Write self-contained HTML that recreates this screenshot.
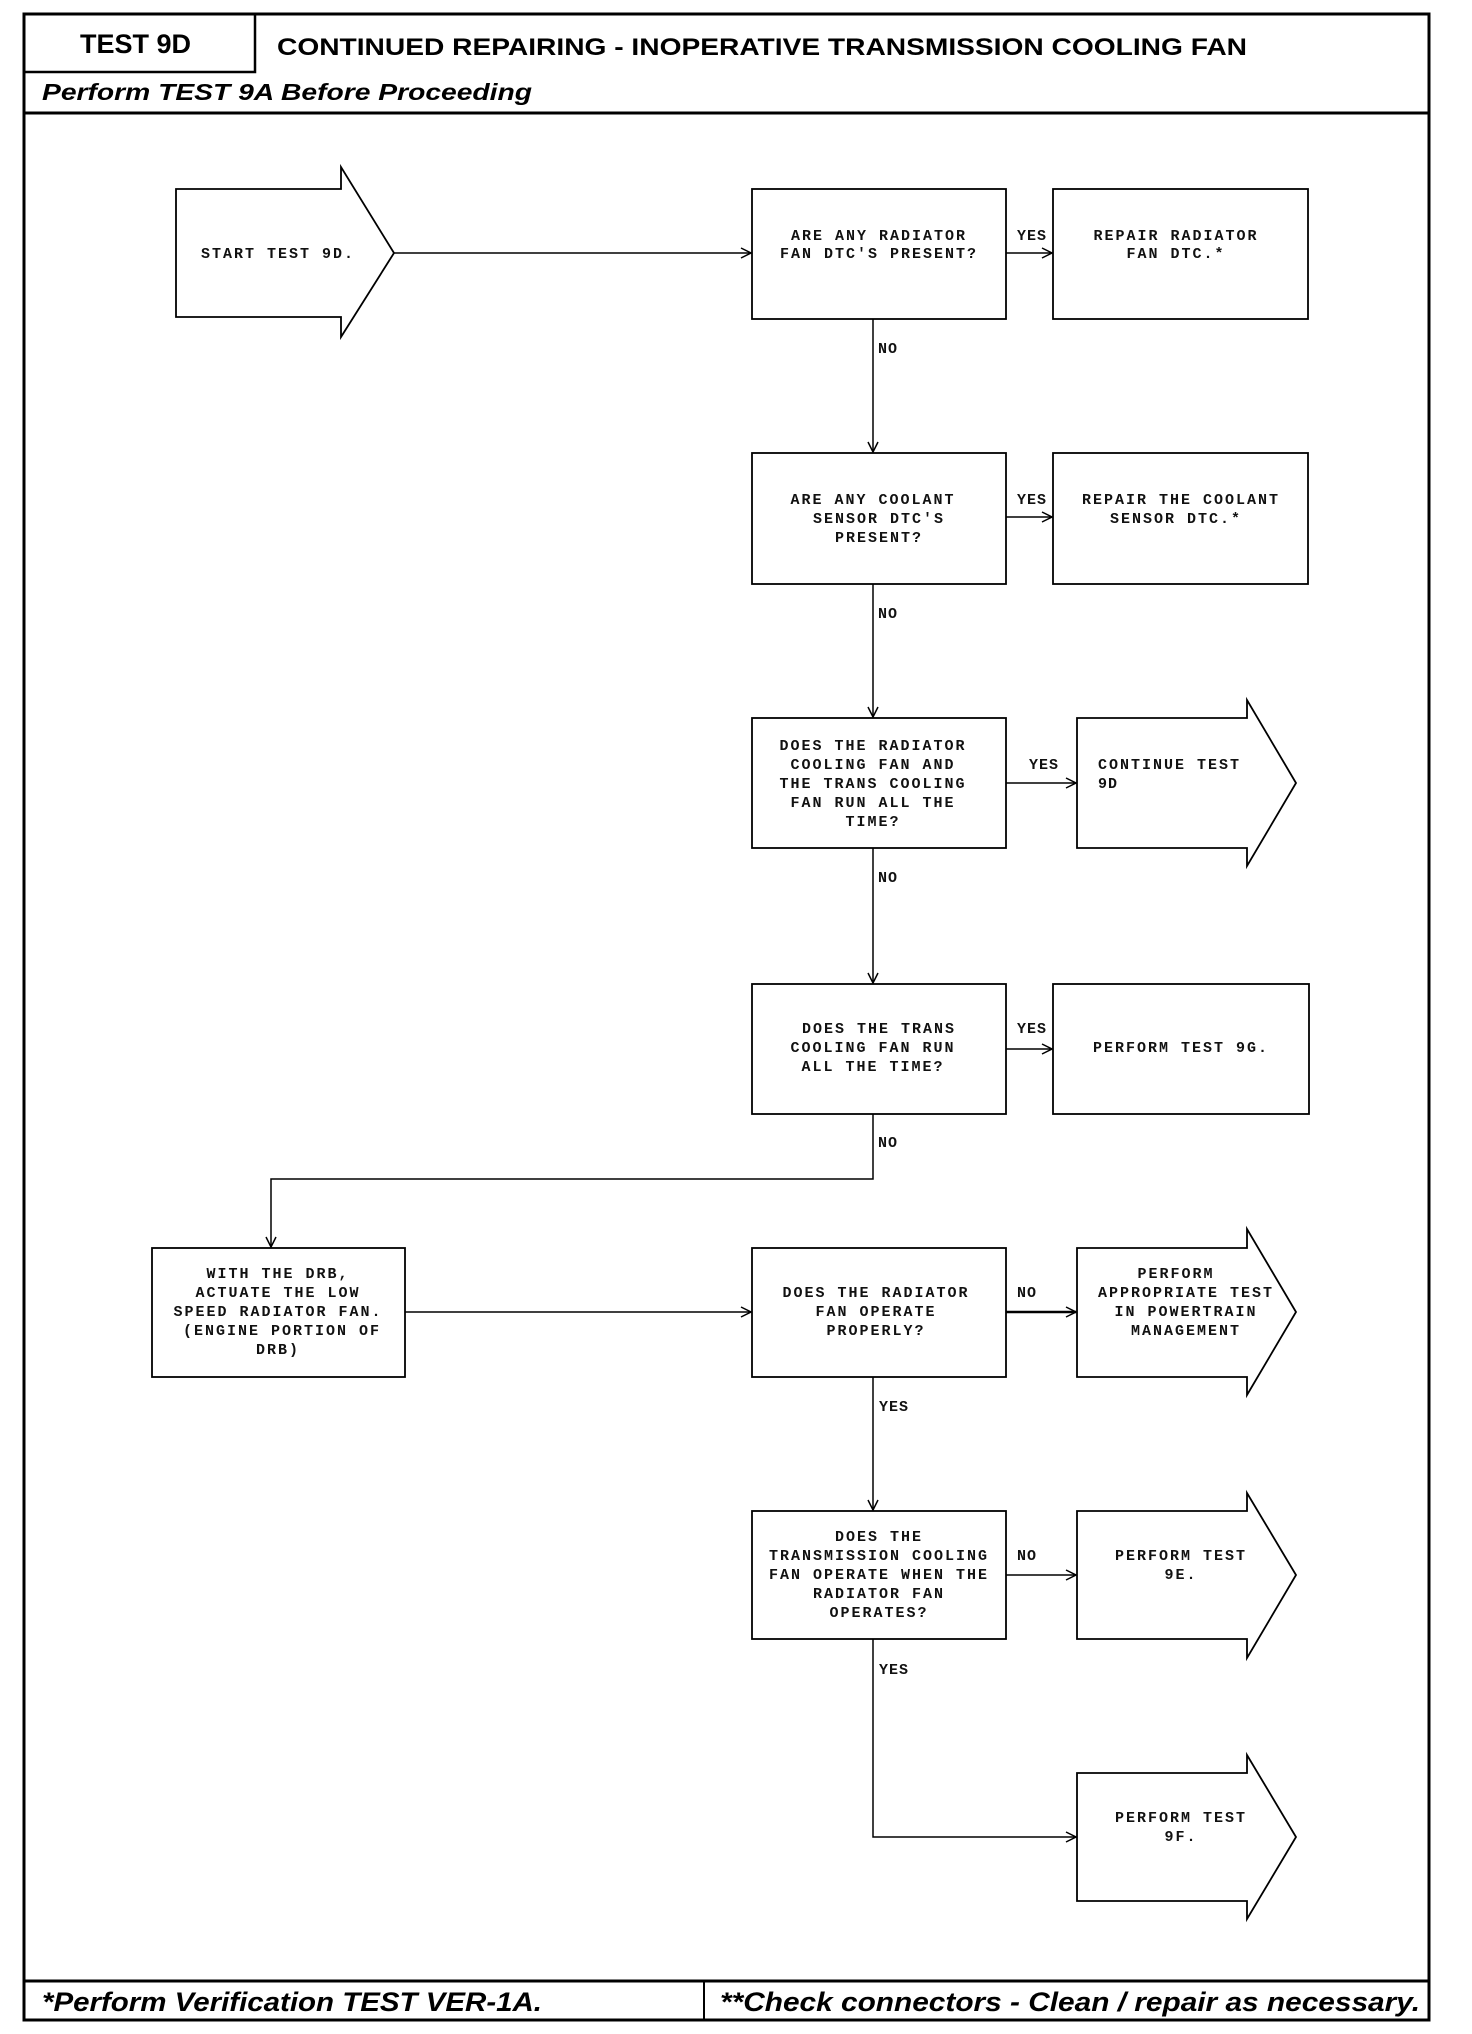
<!DOCTYPE html>
<html><head><meta charset="utf-8"><style>
html,body{margin:0;padding:0;background:#fff}
svg{display:block}
.t{font-family:"Liberation Mono",monospace;font-size:15px;letter-spacing:2px;font-weight:bold;fill:#111;text-anchor:middle}
.l{font-family:"Liberation Mono",monospace;font-size:15px;letter-spacing:1px;font-weight:bold;fill:#111}
.h{font-family:"Liberation Sans",sans-serif;font-weight:bold;fill:#000}
</style></head><body>
<svg width="1472" height="2034" viewBox="0 0 1472 2034" xmlns="http://www.w3.org/2000/svg">
<defs><marker id="a" markerWidth="12" markerHeight="12" refX="11" refY="6" orient="auto" markerUnits="userSpaceOnUse"><path d="M1,1 L11,6 L1,11" fill="none" stroke="#000" stroke-width="1.5"/></marker></defs>
<g fill="none" stroke="#000">
<rect x="24" y="14" width="1405" height="2006" stroke-width="3"/>
<line x1="24" y1="113" x2="1429" y2="113" stroke-width="3"/>
<rect x="24" y="14" width="231" height="58" stroke-width="2.5"/>
<line x1="24" y1="1981" x2="1429" y2="1981" stroke-width="3"/>
<line x1="704" y1="1981" x2="704" y2="2020" stroke-width="2"/>
</g>
<text class="h" x="80" y="53" font-size="27">TEST 9D</text>
<text class="h" x="277" y="55" font-size="24" textLength="970" lengthAdjust="spacingAndGlyphs">CONTINUED REPAIRING - INOPERATIVE TRANSMISSION COOLING FAN</text>
<text class="h" x="42" y="100" font-size="23" font-style="italic" textLength="490" lengthAdjust="spacingAndGlyphs">Perform TEST 9A Before Proceeding</text>
<text class="h" x="42" y="2011" font-size="27" font-style="italic" textLength="500" lengthAdjust="spacingAndGlyphs">*Perform Verification TEST VER-1A.</text>
<text class="h" x="720" y="2011" font-size="27" font-style="italic" textLength="700" lengthAdjust="spacingAndGlyphs">**Check connectors - Clean / repair as necessary.</text>

<g fill="none" stroke="#000" stroke-width="1.8">
<path d="M176,189 H341 V167 L394,253 L341,337 V317 H176 Z"/>
<rect x="152" y="1248" width="253" height="129"/>
</g>
<text class="t" x="278" y="258">START TEST 9D.</text>
<text class="t" x="278" y="1278">WITH THE DRB,</text>
<text class="t" x="278" y="1297">ACTUATE THE LOW</text>
<text class="t" x="278" y="1316">SPEED RADIATOR FAN.</text>
<text class="t" x="282" y="1335">(ENGINE PORTION OF</text>
<text class="t" x="278" y="1354">DRB)</text>
<g fill="none" stroke="#000" stroke-width="1.5" marker-end="url(#a)">
<line x1="394" y1="253" x2="751" y2="253"/>
<path d="M873,1114 V1179 H271 V1247"/>
<line x1="405" y1="1312" x2="751" y2="1312"/>
</g>

<g transform="translate(-4,0)">
<g fill="none" stroke="#000" stroke-width="1.8">
<rect x="756" y="189" width="254" height="130"/>
<rect x="1057" y="189" width="255" height="130"/>
<rect x="756" y="453" width="254" height="131"/>
<rect x="1057" y="453" width="255" height="131"/>
<rect x="756" y="718" width="254" height="130"/>
<path d="M1081,718 H1251 V700 L1300,783 L1251,866 V848 H1081 Z"/>
<rect x="756" y="984" width="254" height="130"/>
<rect x="1057" y="984" width="256" height="130"/>
<rect x="756" y="1248" width="254" height="129"/>
<path d="M1081,1248 H1251 V1229 L1300,1312 L1251,1395 V1377 H1081 Z"/>
<rect x="756" y="1511" width="254" height="128"/>
<path d="M1081,1511 H1251 V1493 L1300,1575 L1251,1658 V1639 H1081 Z"/>
<path d="M1081,1773 H1251 V1755 L1300,1837 L1251,1919 V1901 H1081 Z"/>
</g>
<g fill="none" stroke="#000" stroke-width="1.5" marker-end="url(#a)">
<line x1="1010" y1="253" x2="1056" y2="253"/>
<line x1="877" y1="319" x2="877" y2="452"/>
<line x1="1010" y1="517" x2="1056" y2="517"/>
<line x1="877" y1="584" x2="877" y2="717"/>
<line x1="1010" y1="783" x2="1080" y2="783"/>
<line x1="877" y1="848" x2="877" y2="983"/>
<line x1="1010" y1="1049" x2="1056" y2="1049"/>
<line x1="1010" y1="1312" x2="1080" y2="1312" stroke-width="2.5"/>
<line x1="877" y1="1377" x2="877" y2="1510"/>
<line x1="1010" y1="1575" x2="1080" y2="1575"/>
<path d="M877,1639 V1837 H1080"/>
</g>
<text class="t" x="883" y="240">ARE ANY RADIATOR</text>
<text class="t" x="883" y="258">FAN DTC'S PRESENT?</text>
<text class="l" x="1021" y="240">YES</text>
<text class="t" x="1180" y="240">REPAIR RADIATOR</text>
<text class="t" x="1180" y="258">FAN DTC.*</text>
<text class="l" x="882" y="353">NO</text>
<text class="t" x="877" y="504">ARE ANY COOLANT</text>
<text class="t" x="883" y="523">SENSOR DTC'S</text>
<text class="t" x="883" y="542">PRESENT?</text>
<text class="l" x="1021" y="504">YES</text>
<text class="t" x="1185" y="504">REPAIR THE COOLANT</text>
<text class="t" x="1180" y="523">SENSOR DTC.*</text>
<text class="l" x="882" y="618">NO</text>
<text class="t" x="877" y="750">DOES THE RADIATOR</text>
<text class="t" x="877" y="769">COOLING FAN AND</text>
<text class="t" x="877" y="788">THE TRANS COOLING</text>
<text class="t" x="877" y="807">FAN RUN ALL THE</text>
<text class="t" x="877" y="826">TIME?</text>
<text class="l" x="1033" y="769">YES</text>
<text class="l" x="1102" y="769" style="letter-spacing:2px">CONTINUE TEST</text>
<text class="l" x="1102" y="788">9D</text>
<text class="l" x="882" y="882">NO</text>
<text class="t" x="883" y="1033">DOES THE TRANS</text>
<text class="t" x="877" y="1052">COOLING FAN RUN</text>
<text class="t" x="877" y="1071">ALL THE TIME?</text>
<text class="l" x="1021" y="1033">YES</text>
<text class="t" x="1185" y="1052">PERFORM TEST 9G.</text>
<text class="l" x="882" y="1147">NO</text>
<text class="t" x="880" y="1297">DOES THE RADIATOR</text>
<text class="t" x="880" y="1316">FAN OPERATE</text>
<text class="t" x="880" y="1335">PROPERLY?</text>
<text class="l" x="1021" y="1297">NO</text>
<text class="t" x="1180" y="1278">PERFORM</text>
<text class="t" x="1190" y="1297">APPROPRIATE TEST</text>
<text class="t" x="1190" y="1316">IN POWERTRAIN</text>
<text class="t" x="1190" y="1335">MANAGEMENT</text>
<text class="l" x="883" y="1411">YES</text>
<text class="t" x="883" y="1541">DOES THE</text>
<text class="t" x="883" y="1560">TRANSMISSION COOLING</text>
<text class="t" x="883" y="1579">FAN OPERATE WHEN THE</text>
<text class="t" x="883" y="1598">RADIATOR FAN</text>
<text class="t" x="883" y="1617">OPERATES?</text>
<text class="l" x="1021" y="1560">NO</text>
<text class="t" x="1185" y="1560">PERFORM TEST</text>
<text class="t" x="1185" y="1579">9E.</text>
<text class="l" x="883" y="1674">YES</text>
<text class="t" x="1185" y="1822">PERFORM TEST</text>
<text class="t" x="1185" y="1841">9F.</text>
</g>
</svg>
</body></html>
